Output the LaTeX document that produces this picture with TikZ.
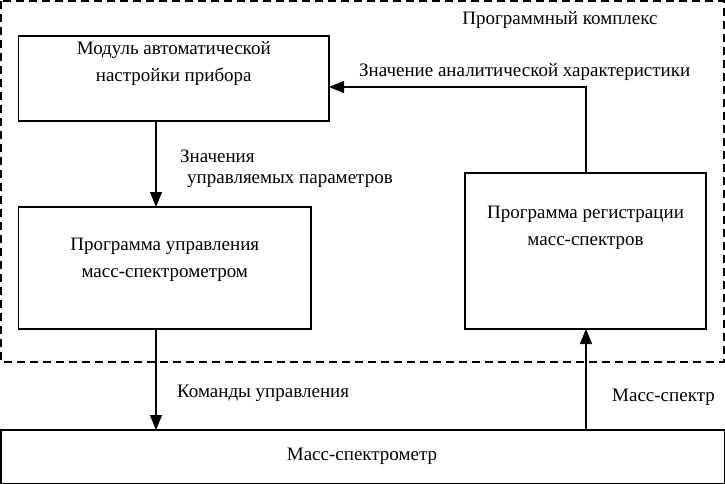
\documentclass[tikz,border=0pt]{standalone}
\usepackage{fontspec}
\setmainfont{Liberation Serif}
\usetikzlibrary{arrows.meta}
\begin{document}
\begin{tikzpicture}[x=1pt,y=-1pt,
  txt/.style={font=\fontsize{19}{27}\selectfont, inner sep=0pt, align=center},
  blk/.style={draw, line width=1.5pt},
  conn/.style={line width=1.3pt, -{Triangle[width=12pt,length=15pt]}},
  plain/.style={line width=1.3pt}]
\useasboundingbox (0,0) rectangle (725,484);
% dashed frame
\draw[line width=1.6pt, dash pattern=on 8pt off 5pt] (1,1) rectangle (724,362);
\node[txt] (title) at (560,20) {Программный комплекс};
% blocks
\draw[blk] (18.5,36) rectangle (329,121);
\node[txt] (a) at (173.75,64) {Модуль автоматической\\настройки прибора};
\coordinate (aS) at (156,121);
\coordinate (aE) at (329,87);
\draw[blk] (18.5,207) rectangle (311,329);
\node[txt] (b) at (164.75,260) {Программа управления\\масс-спектрометром};
\coordinate (bN) at (156,207);
\coordinate (bS) at (156,329);
\draw[blk] (465,173) rectangle (706,329);
\node[txt] (c) at (585.5,228) {Программа регистрации\\масс-спектров};
\coordinate (cN) at (586,173);
\coordinate (cS) at (586,329);
\draw[blk] (0.75,430) rectangle (724.25,483.25);
\node[txt] (d) at (362,456) {Масс-спектрометр};
\coordinate (dN1) at (156,430);
\coordinate (dN2) at (586,430);
\coordinate (bend) at (586,87);
% connectors
\draw[conn] (aS) -- (bN);
\draw[conn] (bS) -- (dN1);
\draw[conn] (dN2) -- (cS);
\draw[conn] (cN) -- (bend) -- (aE);
% labels
\node[txt, anchor=west] (l1) at (359,72) {Значение аналитической характеристики};
\node[txt, anchor=west] (l2) at (180,156) {Значения};
\node[txt, anchor=west] (l3) at (187,181) {управляемых параметров};
\node[txt, anchor=west] (l4) at (177,393) {Команды управления};
\node[txt, anchor=west] (l5) at (612,397) {Масс-спектр};
\end{tikzpicture}
\end{document}
